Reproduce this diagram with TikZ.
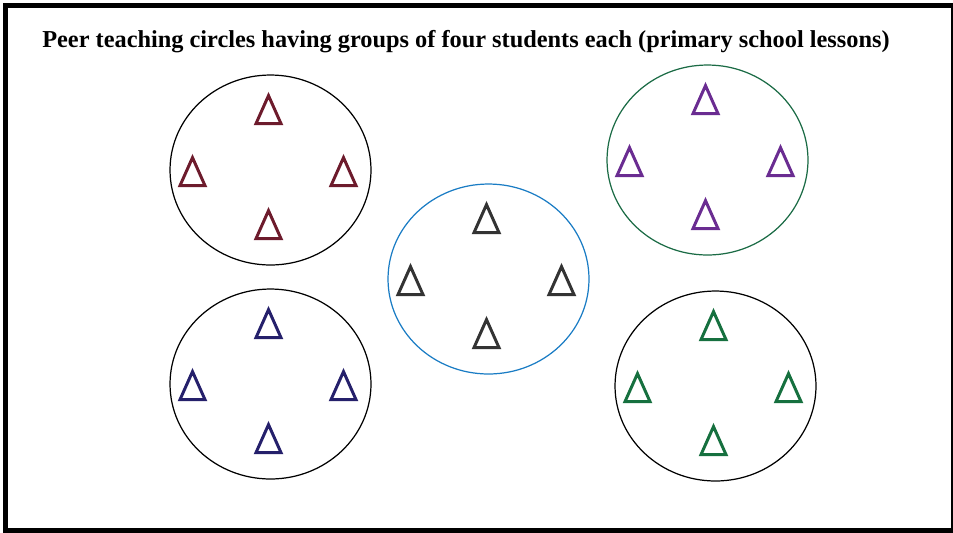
\documentclass[tikz,border=0pt]{standalone}
\usepackage{fontspec}
\setmainfont{Liberation Serif}
\usetikzlibrary{shapes.geometric, calc}
\definecolor{marline}{HTML}{6D1B2C}
\definecolor{navline}{HTML}{25206B}
\definecolor{grayline}{HTML}{333333}
\definecolor{purline}{HTML}{6A2C91}
\definecolor{grnline}{HTML}{16703F}
\definecolor{blucirc}{HTML}{1A7CC4}
\definecolor{grncirc}{HTML}{1B6B45}
\tikzset{
  grp/.style   = {draw, ellipse, line width=0.7pt, inner sep=0pt,
                  minimum width=4.02cm, minimum height=3.8cm},
  stu/.style   = {draw, isosceles triangle, isosceles triangle stretches,
                  shape border rotate=90, inner sep=0pt, line width=1.7pt,
                  minimum width=0.5cm, minimum height=0.56cm},
  frame/.style = {draw, line width=0.1cm},
  ttl/.style   = {font=\fontsize{13.85}{16}\selectfont\bfseries},
}

\begin{document}
\begin{tikzpicture}[x=0.02cm, y=-0.02cm]
\useasboundingbox (0,0) rectangle (953,532);
\begin{scope}
  \clip (0,0) rectangle (953,532);
  \draw[frame] (5.5,5.5) rectangle (953.5,530);
\end{scope}

\node[ttl] (title) at (466,42)
  {Peer teaching circles having groups of four students each (primary school lessons)};

% circles
\node[grp] (g1) at (270.5,170) {};
\node[grp] (g2) at (270.5,384) {};
\node[grp, draw=blucirc] (g3) at (488.5,279) {};
\node[grp, draw=grncirc] (g4) at (707.5,160) {};
\node[grp] (g5) at (715.5,386) {};

% students
\foreach \g/\c in {g1/marline, g2/navline, g3/grayline, g4/purline, g5/grnline}
  \foreach \dx/\dy/\s in {-2/-54.5/n, -78/7.5/w, 73/7.5/e, -2/60.5/s}
    \node[stu, draw=\c] (\g\s) at ($(\g)+(\dx,\dy)$) {};

\end{tikzpicture}
\end{document}
